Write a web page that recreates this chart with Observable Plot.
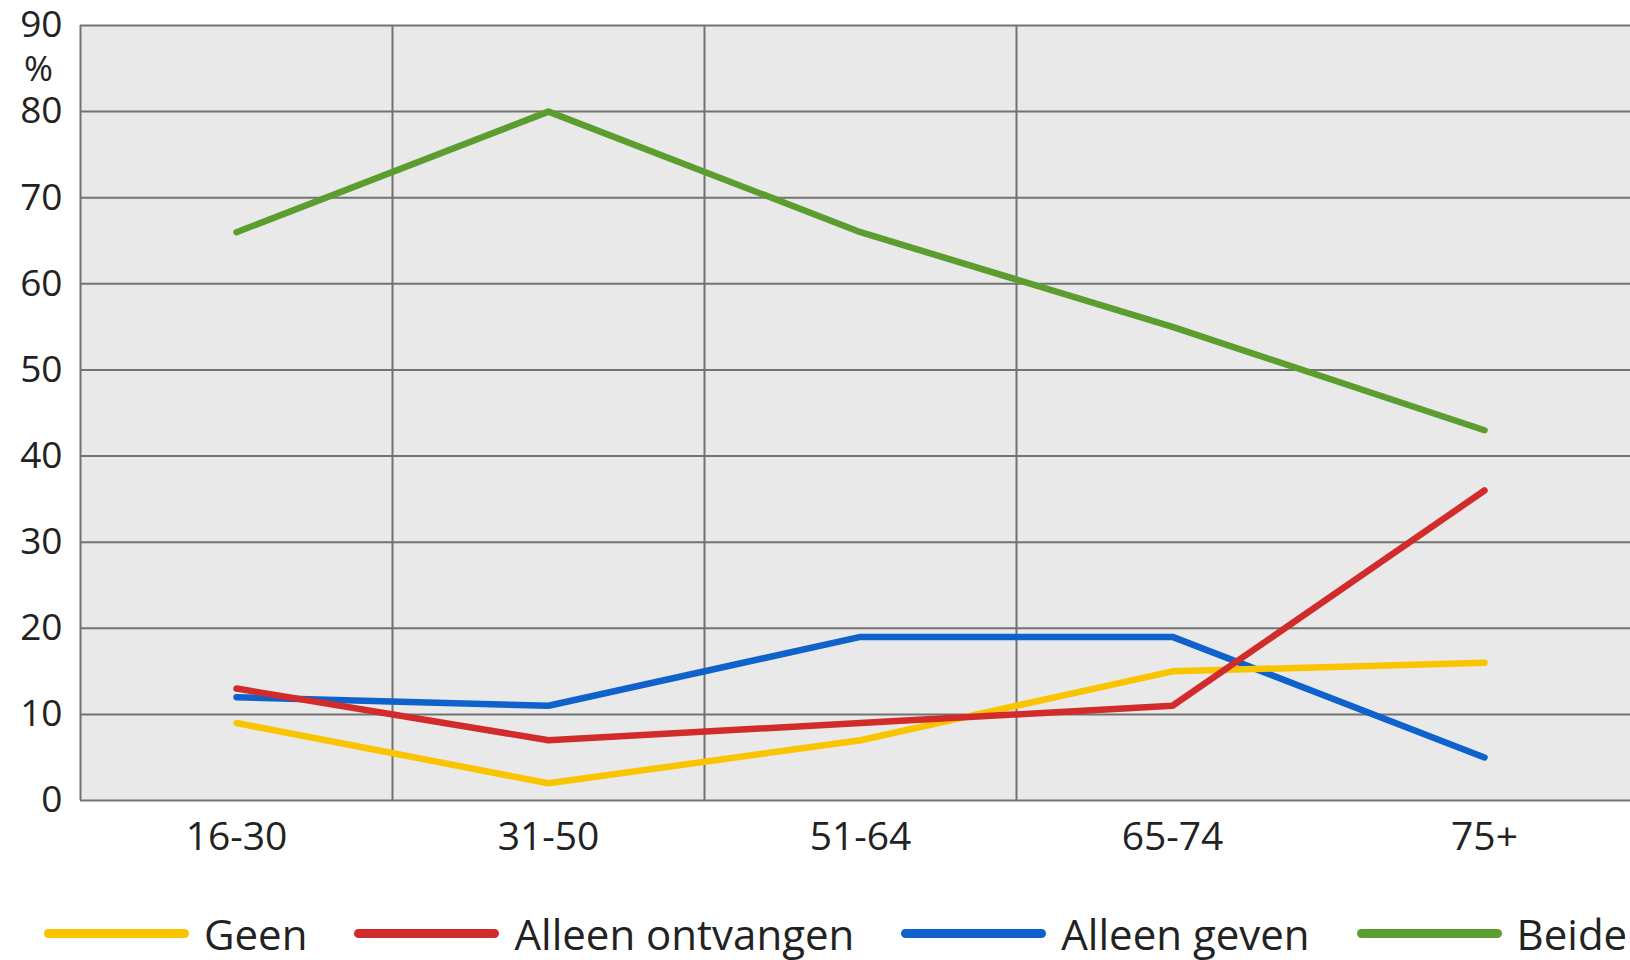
<!DOCTYPE html>
<html><head><meta charset="utf-8">
<script src="https://cdn.jsdelivr.net/npm/d3@7"></script>
<script src="https://cdn.jsdelivr.net/npm/@observablehq/plot@0.6"></script>
<style>
html,body{margin:0;padding:0;background:#fff;overflow:hidden;width:1630px;height:960px}
#chart{position:absolute;left:0;top:0}
#legend{position:absolute;left:44px;top:907px;height:52px;display:flex;align-items:center;font-family:'Open Sans',sans-serif;font-size:42px;color:#222;white-space:nowrap}
#legend .item{display:flex;align-items:center;margin-right:47px}
#legend .sw{width:145px;height:9px;border-radius:5px;margin-right:15px}
</style></head><body><div id="chart"></div><div id="legend"></div>
<script>
const categories = ["16-30", "31-50", "51-64", "65-74", "75+"];
const series = ["Geen", "Alleen ontvangen", "Alleen geven", "Beide"];
const geen = [9, 2, 7, 15, 16];
const alleenOntvangen = [13, 7, 9, 11, 36];
const alleenGeven = [12, 11, 19, 19, 5];
const beide = [66, 80, 66, 55, 43];
const colors = ["#f8c500", "#d22b2b", "#0f62cc", "#5b9d2f"];
const yTicks = [0, 10, 20, 30, 40, 50, 60, 70, 80, 90];
const drawOrder = ["Alleen geven", "Geen", "Alleen ontvangen", "Beide"];

const valuesBySeries = {"Geen": geen, "Alleen ontvangen": alleenOntvangen, "Alleen geven": alleenGeven, "Beide": beide};
const data = drawOrder.flatMap(s => valuesBySeries[s].map((v, j) => ({series: s, idx: j, value: v})));
const catIdx = categories.map((c, i) => i);
const boundaries = categories.slice(0, -1).map((c, i) => i - 0.5);

const chart = Plot.plot({
  width: 1630, height: 870,
  marginLeft: 80, marginRight: 0, marginTop: 25, marginBottom: 70,
  style: {fontFamily: "'Open Sans', sans-serif", fontSize: "38px", color: "#222", background: "transparent", overflow: "visible"},
  x: {domain: [-0.5, categories.length - 0.5], range: [80, 1640]},
  y: {domain: [0, 90]},
  color: {domain: series, range: colors},
  marks: [
    Plot.frame({fill: "#e9e9e9", stroke: null}),
    Plot.ruleY(yTicks, {stroke: "#727272", strokeWidth: 2}),
    Plot.ruleX(boundaries, {stroke: "#727272", strokeWidth: 2}),
    Plot.line(data, {x: "idx", y: "value", z: "series", stroke: "series", strokeWidth: 6.5, strokeLinecap: "round", strokeLinejoin: "round"}),
    Plot.axisX(catIdx, {tickFormat: i => categories[i], tickSize: 0, tickPadding: 22, label: null, fontSize: 39}),
    Plot.axisY(yTicks, {tickSize: 0, tickPadding: 18, label: null, fontSize: 37}),
    Plot.text(["%"], {frameAnchor: "top-left", dx: -42, dy: 44, text: d => d, textAnchor: "middle", lineAnchor: "middle", fontSize: 35, fill: "#222"})
  ]
});
document.getElementById("chart").append(chart);

const legend = document.getElementById("legend");
series.forEach((s, i) => {
  const item = document.createElement("div");
  item.className = "item";
  const sw = document.createElement("span");
  sw.className = "sw";
  sw.style.background = colors[i];
  const t = document.createElement("span");
  t.textContent = s;
  item.append(sw, t);
  legend.append(item);
});
</script>
</body></html>
